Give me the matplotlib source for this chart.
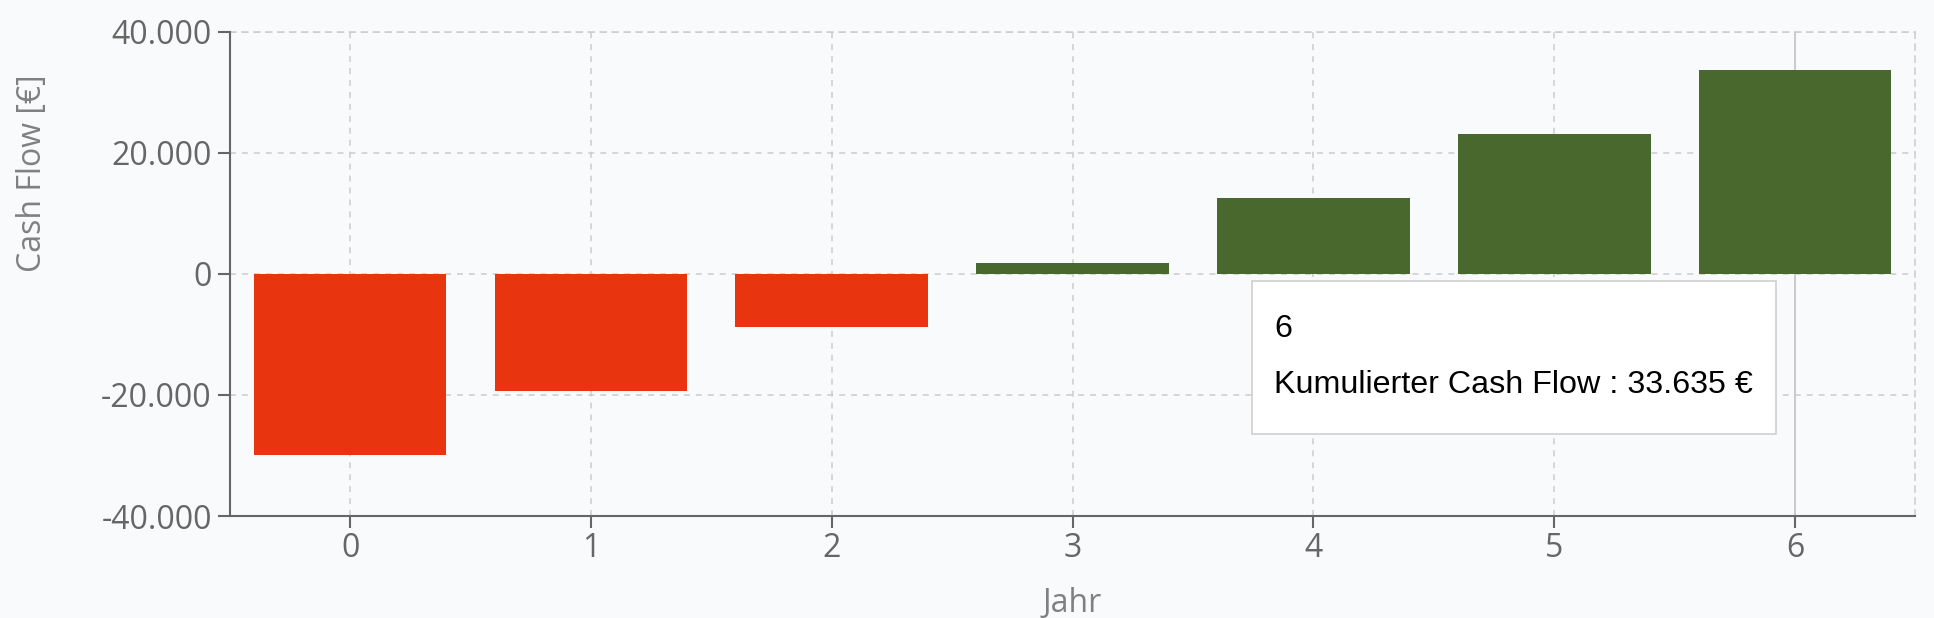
import numpy as np
import matplotlib
matplotlib.use("Agg")
import matplotlib.pyplot as plt
from matplotlib.ticker import FuncFormatter
from matplotlib.patches import Rectangle

# cumulative cash flow per year (EUR)
years = [0, 1, 2, 3, 4, 5, 6]
cash_flow = [-30000, -19340, -8815, 1765, 12450, 23090, 33635]
y_ticks = [-40000, -20000, 0, 20000, 40000]

red = '#e8340f'
green = '#48682e'
grid_col = '#cccccc'
axis_col = '#666666'
bg = '#f9fafb'

plt.rcParams['font.family'] = ['Open Sans', 'DejaVu Sans']

fig = plt.figure(figsize=(19.34, 6.18), dpi=100, facecolor=bg)
ax = fig.add_axes([0.1188, 0.165, 0.8716, 0.7837])
ax.set_facecolor(bg)

colors = [red if v < 0 else green for v in cash_flow]
ax.bar(years, cash_flow, width=0.8, color=colors, zorder=3)

# hover cursor at the last year
ax.axvline(years[-1], color=grid_col, lw=1.5, zorder=2)

ax.set_xlim(-0.5, 6.5)
ax.set_ylim(-40000, 40000)
ax.set_xticks(years)
ax.set_yticks(y_ticks)
ax.yaxis.set_major_formatter(FuncFormatter(lambda v, p: f"{v:,.0f}".replace(",", ".")))

dash = (0, (4.3 / 1.1, 4.3 / 1.1))
ax.grid(True, color=grid_col, lw=1.1, linestyle=dash, zorder=1)
for s in ['top', 'right']:
    ax.spines[s].set_color(grid_col)
    ax.spines[s].set_linewidth(1.1)
    ax.spines[s].set_linestyle(dash)
for s in ['left', 'bottom']:
    ax.spines[s].set_color(axis_col)
    ax.spines[s].set_linewidth(1.5)
    ax.spines[s].set_zorder(4)

ax.tick_params(axis='both', colors=axis_col, labelsize=23, length=8.6, width=1.5)
ax.tick_params(axis='y', pad=4.3)
ax.tick_params(axis='x', pad=3)

ax.set_xlabel('Jahr', fontsize=23, color='#808080')
ax.xaxis.set_label_coords(0.5, -0.146)
ax.set_ylabel('Cash Flow [€]', fontsize=23, color='#808080')
ax.yaxis.set_label_coords(-0.1072, 0.708)

# tooltip box
fig.patches.append(Rectangle((0.6474, 0.2977), 0.2709, 0.2476, transform=fig.transFigure,
                             facecolor='white', edgecolor=grid_col, lw=1.1, zorder=10))
val = f"{cash_flow[-1]:,.0f}".replace(",", ".")
tip_font = ['Liberation Sans', 'DejaVu Sans']
fig.text(0.6588, 0.4547, str(years[-1]), fontsize=23.2, color='black', va='baseline',
         family=tip_font, zorder=11)
fig.text(0.6588, 0.364, f"Kumulierter Cash Flow : {val} €", fontsize=23.2, color='black',
         va='baseline', family=tip_font, zorder=11)

fig.savefig('out.png', dpi=100, facecolor=bg)
